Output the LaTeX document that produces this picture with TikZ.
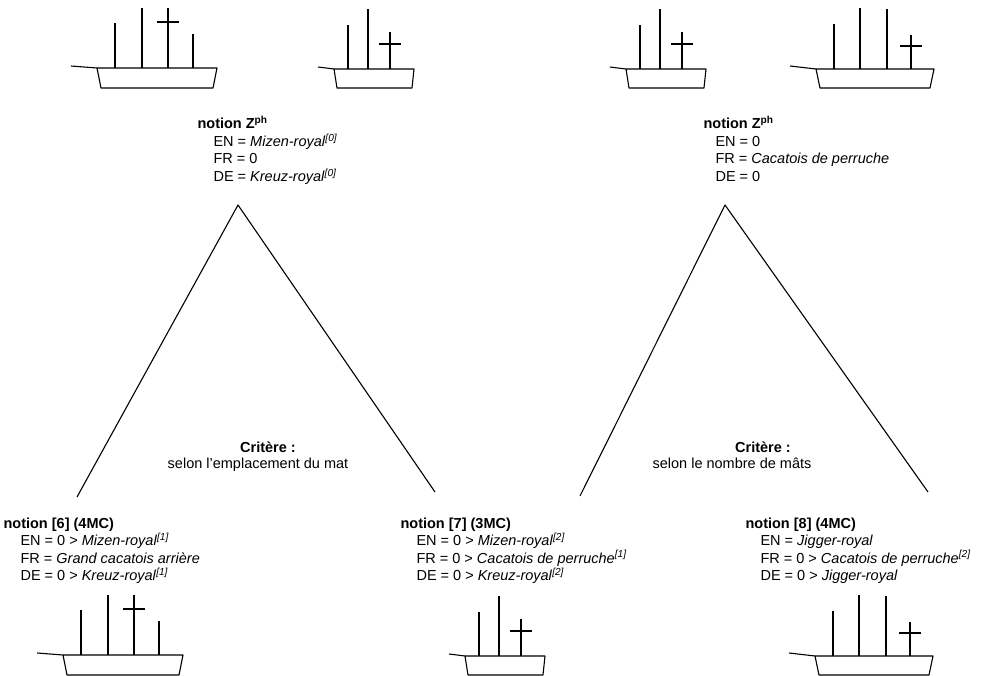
\documentclass[tikz,border=0pt]{standalone}
\usepackage{fontspec}
\setmainfont{Liberation Sans}

% ships: hull, bowsprit and masts, origin at the left end of the deck
\tikzset{
  ship4a/.pic={
    \draw (-26,-2) -- (0,0);
    \draw (0,0) -- (120,0) -- (116,20) -- (4,20) -- cycle;
    \foreach \x/\h in {18/45,45/60,71/60,96/34} \draw (\x,0) -- (\x,-\h);
    \draw (60,-46) -- (82,-46);
  },
  ship3/.pic={
    \draw (-16,-2) -- (0,0);
    \draw (0,0) -- (80,0) -- (78,19) -- (3,19) -- cycle;
    \foreach \x/\h in {14/44,34/60,56/37} \draw (\x,0) -- (\x,-\h);
    \draw (45,-25) -- (67,-25);
  },
  ship4b/.pic={
    \draw (-26,-3) -- (0,0);
    \draw (0,0) -- (118,0) -- (114,19) -- (4,19) -- cycle;
    \foreach \x/\h in {18/45,44/61,71/60,95/34} \draw (\x,0) -- (\x,-\h);
    \draw (84,-23) -- (106,-23);
  }
}

\newcommand{\refnum}[1]{\textsuperscript{\itshape[#1]}}

\begin{document}
\begin{tikzpicture}[x=1pt,y=-1pt,line width=1.1pt,line join=round,
  title/.style={anchor=base west,inner sep=0pt,font=\fontsize{14.5}{17.5}\bfseries},
  entries/.style={anchor=base west,align=left,inner sep=0pt,font=\fontsize{14.5}{17.5}\selectfont},
  critere/.style={anchor=base,inner sep=0pt,font=\fontsize{14.5}{16}\selectfont}]
\useasboundingbox (0,0) rectangle (994,676);

% top row of ships
\pic at (97,68) {ship4a};
\pic at (334,69) {ship3};
\pic at (626,69) {ship3};
\pic at (816,69) {ship4b};

% bottom row of ships
\pic at (63,655) {ship4a};
\pic at (465,656) {ship3};
\pic at (815,656) {ship4b};

% the two upper notions (entries sit on the baseline of their last line)
\node[title] (z1) at (197,129) {notion Z\textsuperscript{ph}};
\node[entries] (z1e) at (213,181.5) {EN = \textit{Mizen-royal}\refnum{0}\\
  FR = 0\\
  DE = \textit{Kreuz-royal}\refnum{0}};
\node[title] (z2) at (703,129) {notion Z\textsuperscript{ph}};
\node[entries] (z2e) at (715,181.5) {EN = 0\\
  FR = \textit{Cacatois de perruche}\\
  DE = 0};

% the three lower notions
\node[title] (n6) at (3,528) {notion [6] (4MC)};
\node[entries] (n6e) at (20,580.5) {EN = 0 > \textit{Mizen-royal}\refnum{1}\\
  FR = \textit{Grand cacatois arrière}\\
  DE = 0 > \textit{Kreuz-royal}\refnum{1}};
\node[title] (n7) at (400,528) {notion [7] (3MC)};
\node[entries] (n7e) at (416,580.5) {EN = 0 > \textit{Mizen-royal}\refnum{2}\\
  FR = 0 > \textit{Cacatois de perruche}\refnum{1}\\
  DE = 0 > \textit{Kreuz-royal}\refnum{2}};
\node[title] (n8) at (745,528) {notion [8] (4MC)};
\node[entries] (n8e) at (760,580.5) {EN = \textit{Jigger-royal}\\
  FR = 0 > \textit{Cacatois de perruche}\refnum{2}\\
  DE = 0 > \textit{Jigger-royal}};

% branches
\coordinate (t1) at (238,205);
\coordinate (t2) at (725,205);
\coordinate (e6) at (77,497);
\coordinate (e7) at (435,492);
\coordinate (f7) at (580,496);
\coordinate (e8) at (928,492);
\draw (e6) -- (t1) -- (e7);
\draw (f7) -- (t2) -- (e8);

% criteria
\node[critere,font=\fontsize{14.5}{16}\bfseries] (k1) at (268,452) {Critère :};
\node[critere] (s1) at (258,468) {selon l'emplacement du mat};
\node[critere,font=\fontsize{14.5}{16}\bfseries] (k2) at (763,452) {Critère :};
\node[critere] (s2) at (732,468) {selon le nombre de mâts};
\end{tikzpicture}
\end{document}
